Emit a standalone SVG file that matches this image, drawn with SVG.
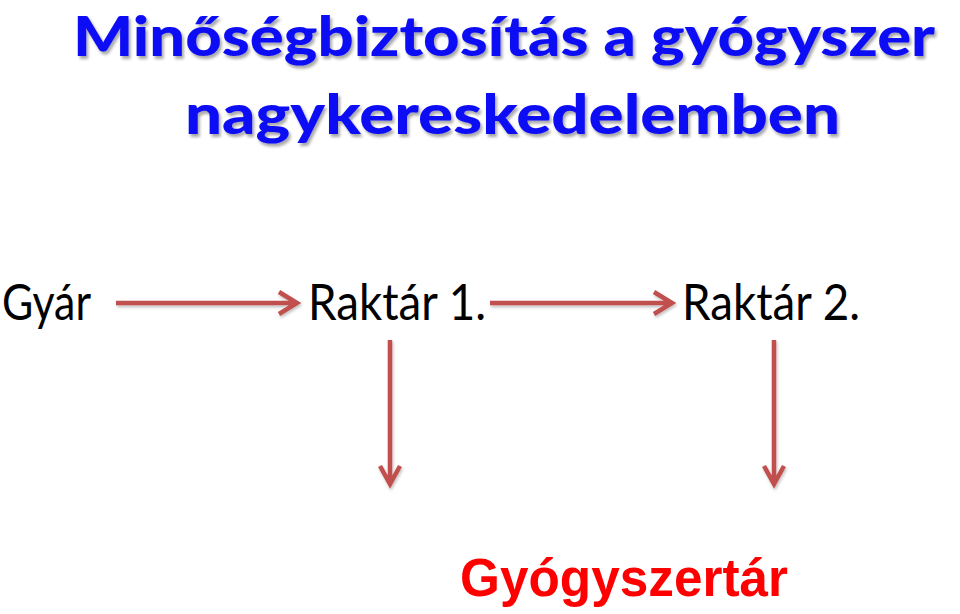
<svg xmlns="http://www.w3.org/2000/svg" width="960" height="614" viewBox="0 0 960 614">
  <defs>
    <filter id="tshadow" x="-5%" y="-20%" width="110%" height="150%">
      <feDropShadow dx="2" dy="3" stdDeviation="1.5" flood-color="#000000" flood-opacity="0.35"/>
    </filter>
    <filter id="ashadow" x="-10%" y="-50%" width="120%" height="200%">
      <feDropShadow dx="1" dy="2" stdDeviation="1.5" flood-color="#000000" flood-opacity="0.25"/>
    </filter>
  </defs>
  <style>
    .title { font-family: Lato, "Open Sans", "Liberation Sans", sans-serif; font-weight: 900; font-size: 56px; fill: #0a0af5; }
    .node { font-family: Lato, "Open Sans", "Liberation Sans", sans-serif; font-size: 50px; fill: #000000; }
    .target { font-family: "Liberation Sans", Arial, sans-serif; font-weight: bold; font-size: 53px; fill: #ff0000; }
    .conn { fill: none; stroke: #c0504d; stroke-width: 4.5; stroke-linecap: butt; stroke-linejoin: miter; }
  </style>
  <rect width="960" height="614" fill="#ffffff"/>

  <g id="title" filter="url(#tshadow)">
    <text class="title" x="73" y="56" textLength="862" lengthAdjust="spacingAndGlyphs">Minőségbiztosítás a gyógyszer</text>
    <text class="title" x="185" y="134" textLength="655" lengthAdjust="spacingAndGlyphs">nagykereskedelemben</text>
  </g>

  <g id="node-gyar">
    <text class="node" x="2" y="320" textLength="89" lengthAdjust="spacingAndGlyphs">Gyár</text>
  </g>
  <g id="node-raktar1">
    <text class="node" x="308" y="320" textLength="178" lengthAdjust="spacingAndGlyphs">Raktár 1.</text>
  </g>
  <g id="node-raktar2">
    <text class="node" x="682" y="320" textLength="178" lengthAdjust="spacingAndGlyphs">Raktár 2.</text>
  </g>
  <g id="node-gyogyszertar">
    <text class="target" x="460" y="596" textLength="328" lengthAdjust="spacingAndGlyphs">Gyógyszertár</text>
  </g>

  <g id="connectors" filter="url(#ashadow)">
    <path class="conn" d="M116 303 H296 M279 292 L297 303 L279 314"/>
    <path class="conn" d="M490 303 H670 M654 292 L672 303 L654 314"/>
    <path class="conn" d="M390 340 V482 M380 466 L390 484 L400 466"/>
    <path class="conn" d="M774 340 V482 M764 466 L774 484 L784 466"/>
  </g>
</svg>
